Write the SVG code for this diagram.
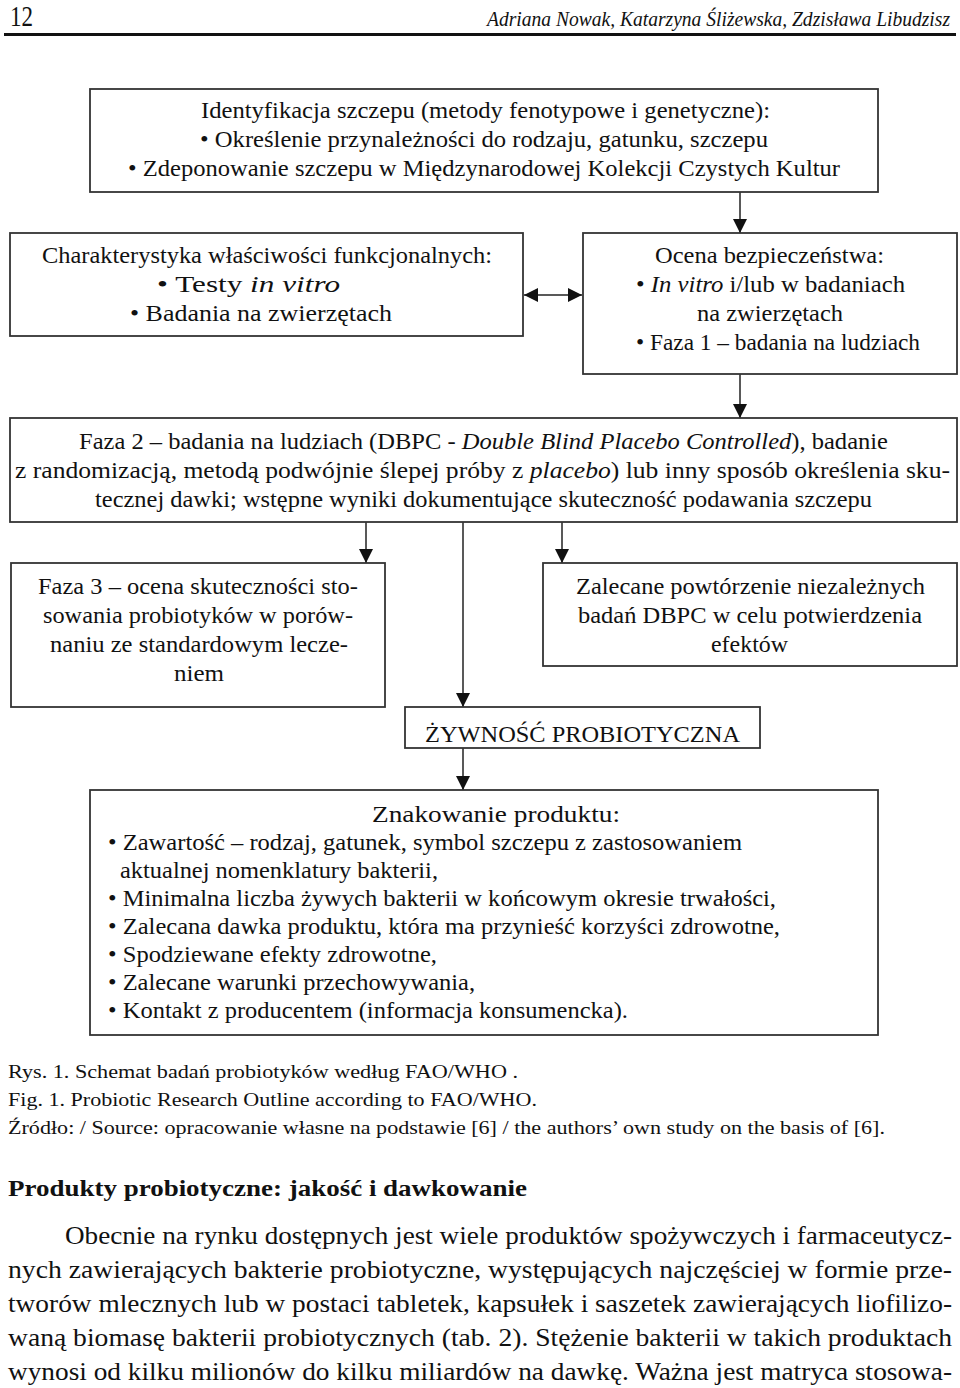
<svg xmlns="http://www.w3.org/2000/svg" width="960" height="1388" viewBox="0 0 960 1388">
<style>
text{font-family:"Liberation Serif","Times New Roman",serif;fill:#111}
.b{font-size:22.5px}
.i{font-style:italic}
.box{fill:#fff;stroke:#333;stroke-width:1.8}
.ln{stroke:#222;stroke-width:1.5;fill:none}
.cap{font-size:19.5px}
.p{font-size:25px}
</style>
<defs>
<marker id="ah" viewBox="0 0 10 10" refX="10" refY="5" markerWidth="16" markerHeight="14" markerUnits="userSpaceOnUse" orient="auto-start-reverse">
<path d="M0,0 L10,5 L0,10 Z" fill="#111"/>
</marker>
</defs>

<g id="header">
<text x="10" y="26" font-size="29" textLength="23" lengthAdjust="spacingAndGlyphs">12</text>
<text x="487" y="26" font-size="20" class="i" textLength="463" lengthAdjust="spacingAndGlyphs">Adriana Nowak, Katarzyna Śliżewska, Zdzisława Libudzisz</text>
<line x1="4" y1="34.5" x2="956" y2="34.5" stroke="#111" stroke-width="3"/>
</g>

<g id="connectors">
<line class="ln" x1="740" y1="192" x2="740" y2="233" marker-end="url(#ah)"/>
<line class="ln" x1="524" y1="295" x2="582" y2="295" marker-start="url(#ah)" marker-end="url(#ah)"/>
<line class="ln" x1="740" y1="374" x2="740" y2="418" marker-end="url(#ah)"/>
<line class="ln" x1="366" y1="522" x2="366" y2="563" marker-end="url(#ah)"/>
<line class="ln" x1="463" y1="522" x2="463" y2="707" marker-end="url(#ah)"/>
<line class="ln" x1="562" y1="522" x2="562" y2="563" marker-end="url(#ah)"/>
<line class="ln" x1="463" y1="748" x2="463" y2="790" marker-end="url(#ah)"/>
</g>

<g id="identyfikacja">
<rect class="box" x="90" y="89" width="788" height="103"/>
<text class="b" x="201" y="118" textLength="569" lengthAdjust="spacingAndGlyphs">Identyfikacja szczepu (metody fenotypowe i genetyczne):</text>
<text class="b" x="200" y="147" textLength="568" lengthAdjust="spacingAndGlyphs">• Określenie przynależności do rodzaju, gatunku, szczepu</text>
<text class="b" x="128" y="176" textLength="712" lengthAdjust="spacingAndGlyphs">• Zdeponowanie szczepu w Międzynarodowej Kolekcji Czystych Kultur</text>
</g>

<g id="charakterystyka">
<rect class="box" x="10" y="233" width="513" height="103"/>
<text class="b" x="42" y="263" textLength="450" lengthAdjust="spacingAndGlyphs">Charakterystyka właściwości funkcjonalnych:</text>
<text class="b" x="157" y="292" textLength="183" lengthAdjust="spacingAndGlyphs">• Testy <tspan class="i">in vitro</tspan></text>
<text class="b" x="130" y="321" textLength="262" lengthAdjust="spacingAndGlyphs">• Badania na zwierzętach</text>
</g>

<g id="ocena">
<rect class="box" x="583" y="233" width="374" height="141"/>
<text class="b" x="655" y="263" textLength="229" lengthAdjust="spacingAndGlyphs">Ocena bezpieczeństwa:</text>
<text class="b" x="636" y="292" textLength="269" lengthAdjust="spacingAndGlyphs">• <tspan class="i">In vitro</tspan> i/lub w badaniach</text>
<text class="b" x="697" y="321" textLength="146" lengthAdjust="spacingAndGlyphs">na zwierzętach</text>
<text class="b" x="636" y="350" textLength="284" lengthAdjust="spacingAndGlyphs">• Faza 1 – badania na ludziach</text>
</g>

<g id="faza2">
<rect class="box" x="10" y="418" width="947" height="104"/>
<text class="b" x="79" y="449" textLength="809" lengthAdjust="spacingAndGlyphs">Faza 2 – badania na ludziach (DBPC - <tspan class="i">Double Blind Placebo Controlled</tspan>), badanie</text>
<text class="b" x="15" y="478" textLength="935" lengthAdjust="spacingAndGlyphs">z randomizacją, metodą podwójnie ślepej próby z <tspan class="i">placebo</tspan>) lub inny sposób określenia sku-</text>
<text class="b" x="95" y="507" textLength="777" lengthAdjust="spacingAndGlyphs">tecznej dawki; wstępne wyniki dokumentujące skuteczność podawania szczepu</text>
</g>

<g id="faza3">
<rect class="box" x="11" y="563" width="374" height="144"/>
<text class="b" x="38" y="594" textLength="320" lengthAdjust="spacingAndGlyphs">Faza 3 – ocena skuteczności sto-</text>
<text class="b" x="43" y="623" textLength="310" lengthAdjust="spacingAndGlyphs">sowania probiotyków w porów-</text>
<text class="b" x="50" y="652" textLength="298" lengthAdjust="spacingAndGlyphs">naniu ze standardowym lecze-</text>
<text class="b" x="174" y="681" textLength="50" lengthAdjust="spacingAndGlyphs">niem</text>
</g>

<g id="zalecane">
<rect class="box" x="543" y="563" width="414" height="103"/>
<text class="b" x="576" y="594" textLength="349" lengthAdjust="spacingAndGlyphs">Zalecane powtórzenie niezależnych</text>
<text class="b" x="578" y="623" textLength="344" lengthAdjust="spacingAndGlyphs">badań DBPC w celu potwierdzenia</text>
<text class="b" x="711" y="652" textLength="77" lengthAdjust="spacingAndGlyphs">efektów</text>
</g>

<g id="zywnosc">
<rect class="box" x="405" y="707" width="355" height="41"/>
<text class="b" x="425" y="742" textLength="315" lengthAdjust="spacingAndGlyphs">ŻYWNOŚĆ PROBIOTYCZNA</text>
</g>

<g id="znakowanie">
<rect class="box" x="90" y="790" width="788" height="245"/>
<text class="b" x="372" y="822" textLength="248" lengthAdjust="spacingAndGlyphs">Znakowanie produktu:</text>
<text class="b" x="108" y="850" textLength="634" lengthAdjust="spacingAndGlyphs">• Zawartość – rodzaj, gatunek, symbol szczepu z zastosowaniem</text>
<text class="b" x="120" y="878" textLength="318" lengthAdjust="spacingAndGlyphs">aktualnej nomenklatury bakterii,</text>
<text class="b" x="108" y="906" textLength="668" lengthAdjust="spacingAndGlyphs">• Minimalna liczba żywych bakterii w końcowym okresie trwałości,</text>
<text class="b" x="108" y="934" textLength="672" lengthAdjust="spacingAndGlyphs">• Zalecana dawka produktu, która ma przynieść korzyści zdrowotne,</text>
<text class="b" x="108" y="962" textLength="329" lengthAdjust="spacingAndGlyphs">• Spodziewane efekty zdrowotne,</text>
<text class="b" x="108" y="990" textLength="367" lengthAdjust="spacingAndGlyphs">• Zalecane warunki przechowywania,</text>
<text class="b" x="108" y="1018" textLength="520" lengthAdjust="spacingAndGlyphs">• Kontakt z producentem (informacja konsumencka).</text>
</g>

<g id="caption">
<text class="cap" x="8" y="1078" textLength="510" lengthAdjust="spacingAndGlyphs">Rys. 1. Schemat badań probiotyków według FAO/WHO .</text>
<text class="cap" x="8" y="1106" textLength="529" lengthAdjust="spacingAndGlyphs">Fig. 1. Probiotic Research Outline according to FAO/WHO.</text>
<text class="cap" x="8" y="1134" textLength="877" lengthAdjust="spacingAndGlyphs">Źródło: / Source: opracowanie własne na podstawie [6] / the authors’ own study on the basis of [6].</text>
</g>

<g id="body">
<text x="8" y="1196" font-size="24" font-weight="bold" textLength="519" lengthAdjust="spacingAndGlyphs">Produkty probiotyczne: jakość i dawkowanie</text>
<text class="p" x="65" y="1244" textLength="887" lengthAdjust="spacingAndGlyphs">Obecnie na rynku dostępnych jest wiele produktów spożywczych i farmaceutycz-</text>
<text class="p" x="8" y="1278" textLength="944" lengthAdjust="spacingAndGlyphs">nych zawierających bakterie probiotyczne, występujących najczęściej w formie prze-</text>
<text class="p" x="8" y="1312" textLength="944" lengthAdjust="spacingAndGlyphs">tworów mlecznych lub w postaci tabletek, kapsułek i saszetek zawierających liofilizo-</text>
<text class="p" x="8" y="1346" textLength="944" lengthAdjust="spacingAndGlyphs">waną biomasę bakterii probiotycznych (tab. 2). Stężenie bakterii w takich produktach</text>
<text class="p" x="8" y="1380" textLength="944" lengthAdjust="spacingAndGlyphs">wynosi od kilku milionów do kilku miliardów na dawkę. Ważna jest matryca stosowa-</text>
</g>
</svg>
